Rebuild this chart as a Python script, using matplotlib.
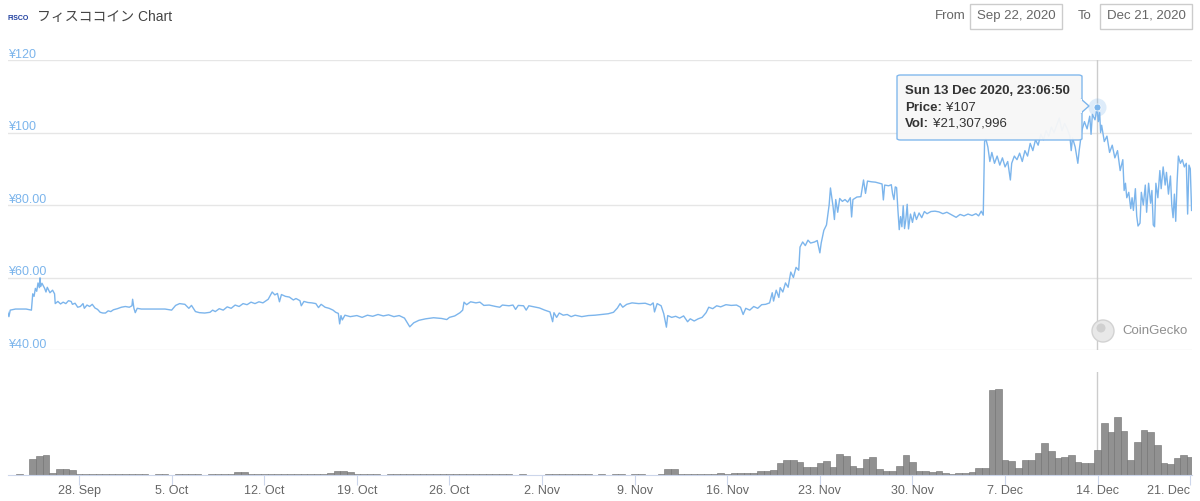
import matplotlib
matplotlib.use('Agg')
import matplotlib.pyplot as plt
import matplotlib.transforms as mtransforms
from matplotlib.patches import FancyBboxPatch, Polygon, Ellipse, Rectangle
from datetime import datetime, timedelta
import pandas as pd

plt.rcParams['font.family'] = ['Liberation Sans', 'Noto Sans CJK JP', 'DejaVu Sans']

W, H = 1200, 501
BASE = datetime(2020, 9, 28)

# price series: days after 28 Sep 2020, price in yen
price_days = [
    -5.4, -5.3, -5.2, -4.8, -4.0, -3.6, -3.5, -3.4, -3.3, -3.2, -3.1, -3.0, -2.95, -2.9, -2.8,
    -2.6, -2.5, -2.4, -2.2, -2.0, -1.85, -1.8, -1.6, -1.4, -1.2, -1.0, -0.8, -0.6, -0.5, -0.3,
    -0.1, 0.1, 0.3, 0.4, 0.6, 0.8, 1.0, 1.2, 1.4, 1.6, 1.8, 2.0, 2.2, 2.4, 2.6, 2.9, 3.2, 3.5,
    3.8, 4.0, 4.05, 4.15, 4.25, 4.4, 4.7, 5.5, 6.5, 7.0, 7.3, 7.6, 8.0, 8.3, 8.5, 8.8, 9.1,
    9.5, 9.9, 10.1, 10.3, 10.6, 10.9, 11.2, 11.5, 11.8, 12.1, 12.4, 12.7, 13.0, 13.3, 13.6,
    13.9, 14.3, 14.6, 14.8, 15.0, 15.15, 15.3, 15.6, 15.9, 16.2, 16.4, 16.7, 16.8, 17.0, 17.3,
    17.6, 17.9, 18.1, 18.3, 18.6, 18.9, 19.2, 19.4, 19.6, 19.7, 19.8, 19.9, 20.1, 20.5, 21.0,
    21.4, 21.8, 22.2, 22.6, 23.0, 23.4, 23.8, 24.2, 24.6,
    25.0, 25.3, 25.7, 26.2, 26.8, 27.4, 27.8, 28.0, 28.4, 28.8, 29.0, 29.1, 29.3, 29.6, 30.0,
    30.3, 30.6, 31.0, 31.5, 31.8, 32.0, 32.5, 32.8, 33.0, 33.2, 33.6, 33.8, 34.0, 34.4, 34.8,
    35.2, 35.6, 35.8, 35.9, 36.1, 36.3, 36.6, 36.9, 37.2, 37.5, 38.0, 38.5, 39.0, 39.5, 40.0,
    40.4, 40.7, 40.9, 41.1, 41.4, 41.8, 42.3, 42.8, 43.2, 43.4, 43.5, 43.7, 44.0, 44.2,
    44.4, 44.5, 44.8, 45.1, 45.4, 45.7, 46.0, 46.2, 46.5, 46.8, 47.1, 47.4, 47.6, 47.9, 48.2,
    48.5, 48.9, 49.3, 49.7, 50.0, 50.2, 50.4, 50.7, 51.0, 51.3, 51.6, 51.9, 52.2, 52.4, 52.5,
    52.7, 52.9, 53.0, 53.2, 53.4, 53.6, 53.8, 54.0, 54.2, 54.4,
    54.5, 54.7, 54.9, 55.1, 55.3, 55.6, 55.8, 56.0, 56.1, 56.3, 56.5, 56.7, 56.8, 56.9, 57.0,
    57.1, 57.2, 57.35, 57.5, 57.7, 57.9, 58.1, 58.3, 58.4, 58.5, 58.8, 59.1, 59.3, 59.45, 59.6,
    59.9, 60.2, 60.5, 60.7, 60.8, 60.9, 61.2, 61.4, 61.5, 61.6, 61.7, 61.8,
    61.9, 62.0, 62.1, 62.2, 62.3, 62.4, 62.5, 62.6, 62.7, 62.85, 63.0, 63.15, 63.3, 63.5, 63.7,
    63.9, 64.1, 64.4, 64.7, 65.0, 65.3, 65.6, 65.8, 66.0, 66.3, 66.6, 66.9, 67.2, 67.5, 67.8,
    68.0, 68.2, 68.35,
    68.45, 68.55, 68.7, 68.85, 69.0, 69.2, 69.4, 69.6, 69.8, 70.0, 70.2, 70.4, 70.5, 70.7, 70.9,
    71.1, 71.3, 71.5, 71.7, 71.9, 72.1, 72.3, 72.5, 72.7, 72.9, 73.1, 73.3, 73.5, 73.7, 73.9,
    74.1, 74.3, 74.5, 74.7, 74.9, 75.0, 75.1, 75.3, 75.5, 75.6, 75.8, 76.0, 76.2, 76.4, 76.5,
    76.6, 76.8, 76.96, 77.05, 77.15, 77.22, 77.3, 77.5, 77.7, 77.9, 78.1, 78.3, 78.5, 78.7, 78.9, 79.0,
    79.1, 79.2, 79.35, 79.5, 79.6, 79.7, 79.85, 79.95, 80.05, 80.2, 80.3, 80.45, 80.6, 80.7,
    80.85, 81.0, 81.1, 81.2, 81.3, 81.4, 81.55, 81.7, 81.8, 81.95, 82.1, 82.2, 82.35, 82.5,
    82.6, 82.7, 82.8, 82.9, 83.0, 83.1, 83.25, 83.4, 83.55, 83.7, 83.8, 83.9, 84.0, 84.1,
]
prices = [
    50.5, 49.2, 51.0, 51.3, 51.3, 51.0, 55.5, 54.8, 57.0, 56.2, 58.5, 57.2, 59.9, 57.5, 58.4,
    57.0, 56.0, 57.3, 55.8, 56.5, 55.5, 52.8, 53.4, 52.7, 53.2, 52.8, 53.6, 53.4, 52.6, 52.9,
    51.8, 52.0, 52.8, 51.5, 52.4, 52.0, 52.6, 51.6, 51.2, 50.4, 50.2, 50.2, 50.8, 50.6, 51.1,
    51.4, 51.8, 52.0, 51.8, 52.2, 54.0, 51.5, 50.3, 51.5, 51.3, 51.3, 51.3, 51.0, 52.3, 52.8,
    52.6, 51.5, 52.3, 50.6, 50.3, 50.2, 50.4, 51.0, 50.6, 51.4, 51.0, 51.9, 51.5, 52.4, 52.0,
    52.8, 52.5, 53.2, 52.8, 53.3, 53.0, 54.0, 56.0, 55.2, 55.6, 53.3, 55.3, 54.8, 54.6, 53.8,
    54.2, 53.6, 52.2, 53.4, 53.1, 53.0, 52.8, 51.7, 52.6, 51.8, 51.5, 51.0, 50.4, 50.1, 47.2,
    49.5, 48.3, 49.6, 49.2, 49.5, 49.0, 49.6, 49.3, 49.8, 49.4, 49.7, 49.2, 49.5, 48.8,
    46.4, 47.5, 48.2, 48.6, 48.9, 48.7, 48.4, 49.0, 49.4, 50.3, 51.0, 53.2, 52.5, 53.3, 53.0,
    53.2, 52.3, 52.4, 52.0, 51.8, 52.4, 52.2, 52.4, 51.2, 52.3, 52.2, 51.0, 52.2, 51.9, 51.6,
    51.0, 50.5, 47.8, 50.3, 49.0, 50.2, 49.6, 49.8, 49.2, 49.6, 49.2, 49.5, 49.6, 49.8, 50.0,
    50.4, 51.6, 52.8, 51.8, 52.6, 53.0, 52.8, 52.9, 52.4, 53.0, 50.5, 52.8, 52.2, 50.0,
    46.3, 49.5, 49.0, 49.3, 48.8, 49.4, 47.8, 48.6, 48.0, 48.6, 49.0, 50.3, 51.8, 51.4, 52.2,
    51.9, 52.5, 52.3, 52.4, 51.8, 49.8, 51.5, 51.0, 52.0, 51.5, 52.5, 52.6, 53.0, 55.8, 53.5,
    56.5, 54.5, 57.2, 56.0, 58.5, 57.3, 61.5, 60.0, 62.8, 62.0,
    68.4, 69.8, 68.8, 70.3, 69.5, 69.8, 70.2, 66.8, 69.5, 73.0, 74.5, 80.0, 84.7, 82.0, 79.5,
    76.0, 81.5, 78.0, 81.8, 81.0, 81.5, 80.8, 82.0, 76.7, 81.5, 82.2, 82.3, 86.9, 83.2, 86.6,
    86.4, 86.3, 86.0, 85.8, 81.4, 85.5, 85.3, 85.6, 83.0, 81.5, 85.0, 84.8,
    78.6, 73.2, 76.8, 74.0, 79.8, 73.5, 76.0, 80.2, 73.4, 77.5, 75.2, 78.0, 76.0, 77.8, 76.5,
    78.2, 77.6, 78.2, 78.3, 78.1, 77.6, 78.0, 77.6, 77.2, 76.6, 77.4, 77.0, 77.5, 77.1, 77.6,
    77.0, 78.3, 77.2,
    97.5, 98.2, 96.0, 92.0, 94.5, 91.5, 93.5, 91.0, 93.0, 90.5, 92.0, 86.9, 91.5, 93.5, 92.5,
    94.3, 92.0, 95.0, 93.5, 97.0, 95.0, 98.0, 96.5, 99.5, 98.0, 100.5, 99.0, 101.5, 100.0, 102.0,
    104.0, 100.5, 102.5, 101.0, 99.0, 95.0, 98.5, 96.0, 91.5, 95.0, 100.5, 103.0, 101.0, 104.5, 99.5,
    105.0, 103.5, 107.0, 103.0, 105.5, 100.0, 102.0, 97.5, 99.0, 94.5, 96.5, 93.0, 95.0, 89.5, 92.5,
    84.0, 86.0, 82.0, 83.5, 79.0, 82.0, 78.5, 84.5, 77.0, 74.2, 75.0, 83.5, 80.0, 85.5, 78.0,
    86.0, 80.5, 84.0, 74.5, 74.0, 86.0, 82.0, 89.5, 84.5, 90.5, 85.5, 89.0, 83.0, 88.0,
    80.0, 76.5, 83.0, 75.5, 86.0, 93.5, 91.5, 92.5, 90.5, 91.5, 77.5, 91.0, 90.0, 78.5,
]

# 12-hourly volume (million yen), starting 22 Sep 2020 12:00
vol_start = '2020-09-22 12:00'
volumes = [
    0.4, 0.4, 0.5, 0.4, 13.5, 16.0, 17.0, 1.5, 4.8, 5.2, 4.0, 1.2, 0.9, 1.1,
    1.0, 0.8, 1.0, 0.7, 0.6, 0.8, 0.5, 0.6, 0.4, 0.5, 0.6, 0.4, 0.5, 0.6,
    0.7, 0.5, 0.4, 0.6, 0.5, 0.7, 0.8, 2.6, 2.2, 0.8, 0.6, 0.7, 1.0, 1.1,
    0.9, 1.2, 0.8, 0.6, 0.5, 0.6, 0.5, 1.5, 3.6, 3.8, 2.8, 0.7, 0.5, 0.6,
    0.5, 0.4, 0.6, 0.5, 0.6, 0.5, 0.6, 0.8, 0.7, 0.9, 0.8, 0.7, 1.0, 0.9,
    0.8, 1.0, 0.9, 0.6, 0.7, 0.6, 0.5, 0.4, 0.5, 0.4, 0.3, 0.4, 0.8, 1.0,
    0.9, 1.0, 0.8, 0.7, 0.5, 0.4, 0.5, 0.4, 0.5, 0.6, 0.4, 0.5, 0.6, 0.4,
    0.3, 0.6, 4.8, 5.0, 0.9, 0.8, 0.9, 0.8, 1.0, 1.1, 1.3, 1.0, 1.4, 1.6,
    1.3, 2.0, 3.6, 3.8, 4.5, 10.5, 12.8, 12.5, 11.0, 7.0, 6.5, 10.0, 11.5, 7.0,
    17.5, 16.0, 7.5, 6.0, 13.5, 15.0, 5.0, 3.8, 3.5, 7.5, 16.5, 11.0, 3.5, 3.0,
    2.6, 3.2, 2.0, 1.2, 1.5, 1.8, 2.5, 5.8, 5.5, 72.0, 73.0, 13.0, 12.0, 5.8,
    12.5, 13.0, 19.0, 27.0, 20.0, 14.0, 15.0, 16.5, 11.0, 10.0, 10.5, 21.5, 44.0, 36.0,
    49.0, 37.0, 13.0, 28.0, 38.0, 36.0, 25.0, 10.0, 9.0, 14.0, 16.5, 15.0,
]

y_ticks = [40, 60, 80, 100, 120]
y_tick_labels = ['¥40.00', '¥60.00', '¥80.00', '¥100', '¥120']

hover_day = 76.96
hover_price = 107
tooltip_lines = [('Sun 13 Dec 2020, 23:06:50', ''), ('Price:', '¥107'), ('Vol:', '¥21,307,996')]

LINE = '#7cb5ec'
GRID = '#e6e6e6'
AXIS = '#ccd6eb'


def px(x, y):
    # top-left pixel coords -> figure fraction
    return x / W, 1 - y / H


fig = plt.figure(figsize=(W / 100, H / 100), dpi=100)
fig.patch.set_facecolor('white')

price_times = [BASE + timedelta(days=d) for d in price_days]
vol_times = pd.date_range(vol_start, periods=len(volumes), freq='12h')
x_start = BASE + timedelta(days=-5.37)
x_end = BASE + timedelta(days=84.13)

# price panel
ax = fig.add_axes([8 / W, 1 - 350 / H, 1184 / W, 290 / H])
ax.set_xlim(x_start, x_end)
ax.set_ylim(40, 120)
for v in y_ticks:
    ax.axhline(v, color=GRID, lw=1, zorder=0)
ax.plot(price_times, prices, color=LINE, lw=1.0, zorder=3)
for s in ax.spines.values():
    s.set_visible(False)
ax.set_xticks([])
ax.set_yticks([])
ax.patch.set_alpha(0)
trans = mtransforms.blended_transform_factory(ax.transAxes, ax.transData)
for v, lab in zip(y_ticks, y_tick_labels):
    ax.text(0, v + 0.6, lab, transform=trans, ha='left', va='baseline',
            fontsize=9, color=LINE)

hover_time = BASE + timedelta(days=hover_day)
ax.axvline(hover_time, color='#cccccc', lw=1, zorder=2)
ax.plot([hover_time], [hover_price], 'o', ms=13, color=LINE, alpha=0.25, mec='none', zorder=4)
ax.plot([hover_time], [hover_price], 'o', ms=5, color=LINE, mec='white', mew=0.5, zorder=5)

# volume panel
axv = fig.add_axes([8 / W, 1 - 475 / H, 1184 / W, 103 / H])
axv.set_xlim(x_start, x_end)
axv.set_ylim(0, 87)
axv.bar(vol_times, volumes, width=0.5, color='#919191', edgecolor='#6f6f6f', linewidth=0.4)
axv.axvline(hover_time, color='#cccccc', lw=1, zorder=0)
for side in ['top', 'right', 'left']:
    axv.spines[side].set_visible(False)
axv.spines['bottom'].set_color(AXIS)
axv.set_yticks([])
weeks = pd.date_range('2020-09-28', '2020-12-21', freq='7D')
axv.set_xticks(weeks)
axv.set_xticklabels([f'{d.day}. {d.strftime("%b")}' for d in weeks])
axv.tick_params(axis='x', length=7, color=AXIS, labelsize=9, labelcolor='#666666', pad=6.5)
for lab in axv.get_xticklabels():
    lab.set_verticalalignment('baseline')
axv.get_xticklabels()[-1].set_horizontalalignment('right')
axv.patch.set_alpha(0)

# tooltip
x0, y0 = px(897, 140)
x1, y1 = px(1082, 75)
box = FancyBboxPatch((x0, y0), x1 - x0, y1 - y0, boxstyle='round,pad=0,rounding_size=0.003',
                     transform=fig.transFigure, facecolor='#f7f7f7', edgecolor=LINE,
                     lw=1, alpha=0.95, zorder=10)
fig.patches.append(box)
arrow = Polygon([px(1081, 99), px(1089, 106), px(1081, 113)], closed=True,
                transform=fig.transFigure, facecolor='#f7f7f7', edgecolor=LINE, lw=1, zorder=10)
fig.patches.append(arrow)
fig.patches.append(Rectangle(px(1080, 113), 1.5 / W, 14 / H, transform=fig.transFigure,
                             facecolor='#f7f7f7', edgecolor='none', zorder=11))
renderer = fig.canvas.get_renderer()
for (bold, normal), yy in zip(tooltip_lines, [91, 108, 124]):
    t = fig.text(*px(905, yy), bold, fontsize=9.5, fontweight='bold', color='#333333',
                 va='center', ha='left', zorder=12)
    if normal:
        bb = t.get_window_extent(renderer)
        fig.text(bb.x1 / W + 4 / W, 1 - yy / H, normal, fontsize=9.5, color='#333333',
                 va='center', ha='left', zorder=12)

# watermark
fig.patches.append(Ellipse(px(1103, 331), 22 / W, 22 / H, transform=fig.transFigure,
                           facecolor='#e8e8e8', edgecolor='#d2d2d2', lw=1, zorder=1))
fig.patches.append(Ellipse(px(1101, 328), 9 / W, 9 / H, transform=fig.transFigure,
                           facecolor='#d0d0d0', edgecolor='none', zorder=1))
fig.text(*px(1122, 331), 'CoinGecko', fontsize=9.5, color='#8f8f8f', va='center', ha='left')

# header
fig.text(*px(8, 19), 'FISCO', fontsize=5, fontweight='bold', color='#1f3f9f', va='center', ha='left')
fig.text(*px(37, 17), 'フィスココイン Chart', fontsize=10, color='#444444', va='center', ha='left')
fig.text(*px(950, 16), 'From', fontsize=9.5, color='#666666', va='center', ha='center')
fig.text(*px(1085, 16), 'To', fontsize=9.5, color='#666666', va='center', ha='center')
for bx0, bx1, label in [(970, 1062, 'Sep 22, 2020'), (1100, 1192, 'Dec 21, 2020')]:
    fig.patches.append(Rectangle(px(bx0, 29), (bx1 - bx0) / W, 25 / H, transform=fig.transFigure,
                                 facecolor='white', edgecolor='#cccccc', lw=1))
    fig.text(*px((bx0 + bx1) / 2, 16), label, fontsize=9.5, color='#666666', va='center', ha='center')

fig.savefig('out.png', dpi=100)
